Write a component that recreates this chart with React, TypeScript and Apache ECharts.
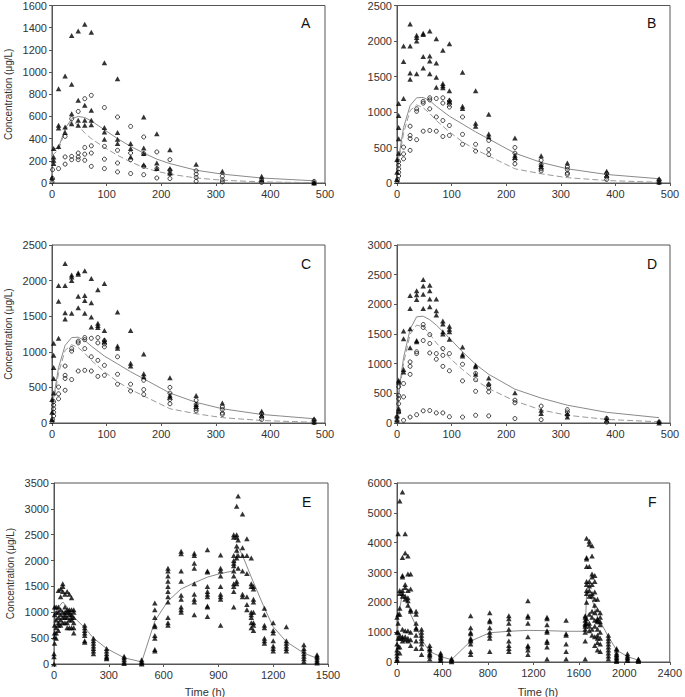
import React, { useEffect, useRef } from "react";
import * as echarts from "echarts";

// ---------- Panel A ----------
const aTri: number[][] = [
  [0, 50], [3, 175], [3, 205], [3, 235], [3, 310], [12, 330], [12, 495], [12, 520], [12, 850],
  [24, 455], [24, 505], [24, 965], [36, 535], [36, 625], [36, 890], [36, 1330],
  [48, 520], [48, 565], [48, 745], [48, 1370], [60, 520], [60, 565], [60, 700], [60, 1430],
  [72, 525], [72, 565], [72, 655], [72, 1360], [96, 395], [96, 460], [96, 500], [96, 1085],
  [120, 355], [120, 395], [120, 455], [120, 940], [144, 235], [144, 310], [144, 355],
  [168, 165], [168, 265], [168, 315], [168, 595], [192, 130], [192, 180], [192, 445],
  [216, 90], [216, 130], [216, 300], [264, 170], [312, 105], [384, 30], [384, 60], [480, 0], [480, 5],
];
const aCirc: number[][] = [
  [0, 10], [1, 40], [1, 120], [12, 130], [24, 170], [24, 235], [24, 420], [36, 210], [36, 240], [36, 580],
  [48, 210], [48, 235], [48, 270], [48, 645], [60, 205], [60, 260], [60, 320], [60, 760],
  [72, 150], [72, 270], [72, 335], [72, 790], [96, 130], [96, 215], [96, 330], [96, 680],
  [120, 100], [120, 180], [120, 295], [120, 595], [144, 85], [144, 210], [144, 270], [144, 510],
  [168, 75], [168, 150], [168, 265], [168, 415], [192, 45], [192, 130], [192, 280],
  [216, 40], [216, 85], [216, 115], [216, 210], [264, 15], [264, 50], [264, 80], [264, 110],
  [312, 10], [312, 30], [312, 60], [384, 5], [384, 25], [480, 0], [480, 15],
];
const aSolid: number[][] = [
  [0, 0], [1, 300], [12, 320], [24, 490], [36, 580], [48, 600], [60, 590], [72, 560], [96, 480],
  [120, 400], [144, 330], [168, 270], [192, 215], [216, 175], [264, 115], [312, 80], [384, 45], [480, 20],
];
const aDashed: number[][] = [
  [0, 0], [1, 250], [12, 300], [24, 470], [36, 560], [48, 520], [60, 450], [72, 400], [96, 320],
  [120, 250], [144, 190], [168, 140], [192, 105], [216, 80], [264, 45], [312, 25], [384, 10], [480, 3],
];

// ---------- Panel B ----------
const bTri: number[][] = [
  [0, 50], [0, 150], [0, 330], [3, 420], [3, 625], [3, 780], [3, 950], [3, 1120], [12, 1190], [12, 1710], [12, 1930],
  [24, 1460], [24, 1550], [24, 1930], [24, 2240], [36, 1540], [36, 2000], [36, 2050], [36, 2080],
  [48, 1620], [48, 1780], [48, 2090], [48, 2110], [60, 1540], [60, 1720], [60, 1790], [60, 2140],
  [72, 1350], [72, 1490], [72, 1690], [72, 2030], [84, 1340], [84, 1370], [84, 1400], [84, 1870],
  [96, 1140], [96, 1170], [96, 1300], [96, 1960], [120, 1050], [120, 1080], [120, 1560],
  [144, 800], [144, 840], [144, 1300], [168, 650], [168, 690], [168, 970], [216, 360], [216, 390], [216, 635],
  [264, 230], [264, 260], [264, 385], [312, 280], [384, 110], [384, 165], [480, 15], [480, 60],
];
const bCirc: number[][] = [
  [0, 20], [1, 50], [3, 100], [3, 150], [3, 200], [3, 250], [3, 300], [12, 340], [12, 410], [12, 505],
  [24, 460], [24, 625], [24, 670], [24, 800], [36, 610], [36, 1010], [36, 1045], [48, 730], [48, 1125], [48, 1150],
  [60, 740], [60, 1045], [60, 1170], [60, 1200], [72, 730], [72, 930], [72, 1190], [84, 655], [84, 880], [84, 1125], [84, 1200],
  [96, 670], [96, 810], [96, 1070], [96, 1110], [96, 1155], [120, 545], [120, 685], [120, 930], [144, 450], [144, 545],
  [168, 400], [168, 470], [168, 600], [216, 270], [216, 330], [216, 420], [216, 500],
  [264, 170], [264, 200], [264, 260], [264, 320], [312, 120], [312, 140], [312, 190], [312, 225],
  [384, 50], [384, 85], [384, 130], [480, 5], [480, 40],
];
const bSolid: number[][] = [
  [0, 0], [3, 350], [12, 780], [24, 1090], [36, 1200], [48, 1205], [60, 1160], [72, 1080], [96, 940],
  [120, 830], [144, 720], [168, 620], [216, 420], [264, 290], [312, 200], [384, 120], [480, 60],
];
const bDashed: number[][] = [
  [0, 0], [3, 300], [12, 700], [24, 1020], [36, 1100], [48, 1060], [60, 980], [72, 880], [96, 720],
  [120, 580], [144, 470], [168, 380], [216, 200], [264, 130], [312, 75], [384, 35], [480, 10],
];

// ---------- Panel C (same observations as B in the source figure) ----------
const cTri: number[][] = bTri;
const cCirc: number[][] = bCirc;
const cSolid: number[][] = bSolid;
const cDashed: number[][] = bDashed;

// ---------- Panel D ----------
const dTri: number[][] = [
  [0, 50], [0, 120], [3, 200], [3, 250], [3, 690], [3, 720], [12, 860], [12, 900], [12, 1420], [12, 1550],
  [24, 1270], [24, 1590], [24, 1930], [24, 2150], [36, 1370], [36, 1390], [36, 2080], [36, 2160], [36, 2230],
  [48, 1930], [48, 2170], [48, 2310], [48, 2420], [60, 1960], [60, 2090], [60, 2230], [60, 2320],
  [72, 1820], [72, 1890], [72, 2090], [84, 1500], [84, 1540], [84, 1670], [84, 1720],
  [96, 1410], [96, 1540], [96, 1580], [96, 1630], [120, 1130], [120, 1160], [120, 1280],
  [144, 820], [144, 950], [144, 975], [168, 660], [168, 760], [216, 510], [264, 160], [264, 215],
  [312, 100], [312, 160], [384, 45], [384, 90], [480, 0], [480, 30],
];
const dCirc: number[][] = [
  [0, 35], [0, 100], [3, 185], [3, 325], [3, 410], [3, 465], [3, 610], [12, 440], [12, 665],
  [24, 820], [24, 955], [24, 1030], [36, 1170], [36, 1200], [48, 1390], [48, 1610], [48, 1660],
  [60, 1180], [60, 1340], [60, 1490], [72, 1075], [72, 1170], [84, 955], [84, 1140], [84, 1255],
  [96, 880], [96, 1170], [120, 710], [120, 990], [144, 535], [144, 730], [144, 835],
  [168, 525], [168, 590], [168, 645], [216, 340], [216, 385], [264, 55], [264, 285],
  [312, 130], [312, 185], [312, 225], [384, 15], [384, 75], [480, 15],
  [12, 45], [24, 100], [36, 140], [48, 205], [60, 210], [72, 170], [84, 170], [96, 105],
  [120, 100], [144, 130], [168, 120], [216, 75],
];
const dSolid: number[][] = [
  [0, 0], [3, 500], [12, 1100], [24, 1580], [36, 1790], [48, 1800], [60, 1740], [72, 1650], [96, 1430],
  [120, 1200], [144, 990], [168, 820], [216, 570], [264, 420], [312, 300], [384, 180], [480, 90],
];
const dDashed: number[][] = [
  [0, 0], [3, 450], [12, 1000], [24, 1500], [36, 1650], [48, 1620], [60, 1500], [72, 1350], [96, 1100],
  [120, 900], [144, 720], [168, 580], [216, 370], [264, 220], [312, 130], [384, 60], [480, 20],
];

// ---------- Panel E ----------
const eTimes: number[] = [
  0, 3, 12, 24, 36, 48, 60, 72, 84, 96, 108, 168, 216, 288, 384, 480, 552, 624, 696, 768, 840, 912,
  984, 1000, 1008, 1032, 1056, 1080, 1092, 1152, 1200, 1272, 1368, 1440,
];
const eValues: number[][] = [
  [0, 140, 200], [400, 520, 600, 750, 950, 1100], [500, 600, 700, 850, 1000, 1100],
  [650, 750, 800, 900, 1000, 1100, 1420], [750, 850, 950, 1050, 1300, 1450], [800, 900, 1000, 1400, 1500, 1550],
  [800, 900, 950, 1000, 1100, 1350], [700, 800, 900, 1000, 1050, 1400], [700, 850, 950, 1000, 1050, 1350],
  [700, 850, 900, 950, 1050, 1280], [600, 700, 800, 900, 1000, 1050], [420, 450, 550, 600, 650, 700, 750],
  [200, 250, 300, 350, 400, 450, 500], [100, 120, 150, 200, 250, 300], [10, 40, 80, 120, 150], [0, 20, 50, 80],
  [250, 280, 500, 550, 720, 750, 900, 1050, 1180], [750, 800, 900, 1200, 1300, 1400, 1500, 1600, 1700, 1800, 1850],
  [1000, 1050, 1100, 1250, 1330, 1600, 1800, 2130, 2180], [950, 1200, 1250, 1350, 1550, 1850, 1950, 2100, 2140],
  [920, 1100, 1120, 1300, 1350, 1400, 1500, 1780, 1800, 2210], [750, 1250, 1300, 1350, 1500, 1700, 1800, 1850, 2110],
  [1100, 1400, 1500, 1550, 1700, 1800, 1900, 1950, 2000, 2100, 2450, 2500],
  [1550, 1600, 2050, 2200, 2280, 2450, 2500, 3050], [1850, 2100, 2400, 3250], [1300, 1350, 1800, 2100, 2250, 2900],
  [1050, 1150, 1300, 1750, 2100, 2420], [700, 800, 900, 950, 1000, 1500, 1550, 2050],
  [650, 750, 800, 1000, 1200, 1250, 1450, 1500], [400, 450, 500, 700, 750, 950, 1080],
  [250, 300, 350, 450, 600, 650, 800], [250, 300, 350, 400, 450, 720], [50, 100, 150, 200, 250, 300, 370],
  [20, 50, 80, 120, 150, 180],
];
const eSolid: number[][] = [
  [0, 0], [5, 800], [24, 1100], [48, 1200], [72, 1100], [96, 950], [168, 700], [216, 500], [288, 300],
  [384, 120], [480, 40], [552, 830], [624, 1220], [696, 1450], [768, 1570], [840, 1680], [912, 1750],
  [984, 1800], [1008, 2260], [1032, 2100], [1080, 1680], [1152, 1080], [1200, 720], [1272, 430],
  [1368, 210], [1440, 110],
];

// ---------- Panel F ----------
const fTimes: number[] = [
  0, 10, 24, 48, 72, 96, 120, 168, 216, 288, 384, 480, 648, 816, 984, 1152, 1320, 1488,
  1656, 1668, 1692, 1716, 1740, 1764, 1788, 1860, 1932, 2028, 2124,
];
const fValues: number[][] = [
  [50, 100, 200, 300, 400, 600, 1000, 1500], [500, 800, 1000, 1300, 1600, 4300],
  [300, 500, 800, 900, 1600, 1800, 2300, 2400, 5400], [700, 800, 850, 1100, 2200, 2300, 2400, 2850, 2900, 3500, 5700],
  [750, 850, 1050, 2100, 2200, 2500, 2600, 3650, 4300], [700, 800, 1050, 1900, 2050, 2150, 2400, 2950, 3550],
  [550, 750, 1000, 1700, 1750, 2450, 2950], [450, 700, 900, 1100, 1150, 1300, 1600, 1700],
  [250, 450, 600, 700, 800, 900, 1000, 1100], [100, 200, 250, 300, 400, 450, 550], [50, 100, 150, 200, 250, 300],
  [10, 40, 80, 120], [250, 350, 600, 700, 750, 800, 950, 1000, 1150, 1550], [350, 800, 900, 1000, 1150, 1350, 1400, 1650],
  [350, 450, 550, 700, 950, 1100, 1300, 1450, 1550], [250, 400, 500, 550, 850, 1300, 1500, 1550, 2050],
  [100, 500, 650, 700, 1000, 1050, 1250, 1450, 1500], [100, 350, 600, 900, 950, 1400],
  [100, 700, 1000, 1100, 1200, 1250, 1300, 1400, 1500, 1550],
  [1300, 1450, 2000, 2300, 2400, 2600, 2700, 3200, 3450, 3500, 4150],
  [1050, 1200, 1300, 1600, 2200, 2400, 2550, 2700, 3200, 3950, 4050],
  [900, 1100, 1500, 1700, 2200, 2300, 2600, 2850, 2950, 3550, 3900],
  [550, 850, 1200, 1400, 1650, 1900, 2100, 2350, 2700, 2900], [400, 650, 800, 900, 1100, 1350, 1400, 1450, 1750, 2100],
  [350, 600, 800, 1000, 1250, 1350, 1500, 1650], [100, 200, 300, 400, 500, 600, 700, 800, 900],
  [20, 50, 100, 150, 200, 250, 300, 400, 450], [50, 100, 150, 200, 280], [20, 50, 80, 100],
];
const fSolid: number[][] = [
  [0, 0], [10, 1500], [48, 2300], [72, 2200], [96, 2000], [120, 1600], [168, 1200], [216, 750], [288, 350],
  [384, 180], [480, 80], [648, 700], [816, 980], [984, 1030], [1152, 1060], [1320, 1050], [1488, 1030],
  [1656, 1030], [1668, 2300], [1692, 2300], [1716, 2100], [1740, 1800], [1764, 1500], [1788, 1350],
  [1860, 850], [1932, 400], [2028, 180], [2124, 60],
];

const flatten = (times: number[], vals: number[][]) =>
  times.flatMap((t, i) => vals[i].map((v) => [t, v]));

const FONT = "'Liberation Sans', Arial, sans-serif";

interface Panel {
  rect: { left: number; top: number; width: number; height: number };
  xMax: number; xInt: number; yMax: number; yInt: number;
  yTitle: boolean;
  tri: number[][]; circ?: number[][]; solid: number[][]; dashed?: number[][];
}

const panels: Panel[] = [
  { rect: { left: 52, top: 5, width: 273, height: 178 }, xMax: 500, xInt: 100, yMax: 1600, yInt: 200, yTitle: true, tri: aTri, circ: aCirc, solid: aSolid, dashed: aDashed },
  { rect: { left: 397, top: 5, width: 273, height: 178 }, xMax: 500, xInt: 100, yMax: 2500, yInt: 500, yTitle: false, tri: bTri, circ: bCirc, solid: bSolid, dashed: bDashed },
  { rect: { left: 52, top: 245, width: 273, height: 178 }, xMax: 500, xInt: 100, yMax: 2500, yInt: 500, yTitle: true, tri: cTri, circ: cCirc, solid: cSolid, dashed: cDashed },
  { rect: { left: 397, top: 245, width: 273, height: 178 }, xMax: 500, xInt: 100, yMax: 3000, yInt: 500, yTitle: false, tri: dTri, circ: dCirc, solid: dSolid, dashed: dDashed },
  { rect: { left: 54, top: 483, width: 274, height: 181 }, xMax: 1500, xInt: 300, yMax: 3500, yInt: 500, yTitle: true, tri: flatten(eTimes, eValues), solid: eSolid },
  { rect: { left: 397, top: 483, width: 276, height: 179 }, xMax: 2400, xInt: 400, yMax: 6000, yInt: 1000, yTitle: false, tri: flatten(fTimes, fValues), solid: fSolid },
];

const letters = [
  { text: "A", x: 301, y: 16 }, { text: "B", x: 647, y: 16 },
  { text: "C", x: 301, y: 257 }, { text: "D", x: 647, y: 257 },
  { text: "E", x: 302, y: 495 }, { text: "F", x: 648, y: 495 },
];

const plain = (v: number) => String(v);

function buildOption() {
  const grid: any[] = [];
  const xAxis: any[] = [];
  const yAxis: any[] = [];
  const series: any[] = [];
  panels.forEach((p, i) => {
    grid.push({ ...p.rect, show: true, borderColor: "#555", borderWidth: 1, containLabel: false });
    xAxis.push({
      type: "value", gridIndex: i, min: 0, max: p.xMax, interval: p.xInt,
      splitLine: { show: false },
      axisLine: { show: true, lineStyle: { color: "#555", width: 1 } },
      axisTick: { show: true, inside: false, length: 3, lineStyle: { color: "#555" } },
      axisLabel: { color: "#333", fontSize: 11, fontFamily: FONT, margin: 5, formatter: plain },
    });
    yAxis.push({
      type: "value", gridIndex: i, min: 0, max: p.yMax, interval: p.yInt,
      splitLine: { show: false },
      axisLine: { show: true, lineStyle: { color: "#555", width: 1 } },
      axisTick: { show: true, inside: false, length: 3, lineStyle: { color: "#555" } },
      axisLabel: { color: "#333", fontSize: 11, fontFamily: FONT, margin: 5, formatter: plain },
      name: p.yTitle ? "Concentration (μg/L)" : "",
      nameLocation: "middle",
      nameGap: 39,
      nameTextStyle: { color: "#333", fontSize: 10, fontFamily: FONT },
    });
    series.push({
      type: "line", xAxisIndex: i, yAxisIndex: i, data: p.solid, symbol: "none", showSymbol: false,
      lineStyle: { color: "#8a8a8a", width: 1 }, z: 1, silent: true,
    });
    if (p.dashed) {
      series.push({
        type: "line", xAxisIndex: i, yAxisIndex: i, data: p.dashed, symbol: "none", showSymbol: false,
        lineStyle: { color: "#9a9a9a", width: 1, type: [6, 3] }, z: 1, silent: true,
      });
    }
    if (p.circ) {
      series.push({
        type: "scatter", xAxisIndex: i, yAxisIndex: i, data: p.circ, symbol: "circle", symbolSize: 4,
        itemStyle: { color: "rgba(255,255,255,0)", borderColor: "#111", borderWidth: 1 }, z: 2,
      });
    }
    series.push({
      type: "scatter", xAxisIndex: i, yAxisIndex: i, data: p.tri, symbol: "triangle", symbolSize: [5.5, 5],
      itemStyle: { color: "#000" }, z: 3,
    });
  });

  const graphic: any[] = letters.map((l) => ({
    type: "text", x: l.x, y: l.y,
    style: { text: l.text, fill: "#111", font: `14px ${FONT}` },
  }));
  graphic.push(
    { type: "text", x: 205, y: 692, style: { text: "Time (h)", fill: "#333", font: `11px ${FONT}`, textAlign: "center", textVerticalAlign: "middle" } },
    { type: "text", x: 538, y: 692, style: { text: "Time (h)", fill: "#333", font: `11px ${FONT}`, textAlign: "center", textVerticalAlign: "middle" } },
  );

  return { animation: false, backgroundColor: "#fff", grid, xAxis, yAxis, series, graphic };
}

export default function App() {
  const ref = useRef<HTMLDivElement>(null);
  useEffect(() => {
    document.body.style.margin = "0";
    const chart = echarts.init(ref.current!, null, { renderer: "svg" });
    chart.setOption(buildOption() as any);
    return () => chart.dispose();
  }, []);
  return <div ref={ref} style={{ width: 685, height: 697 }} />;
}
